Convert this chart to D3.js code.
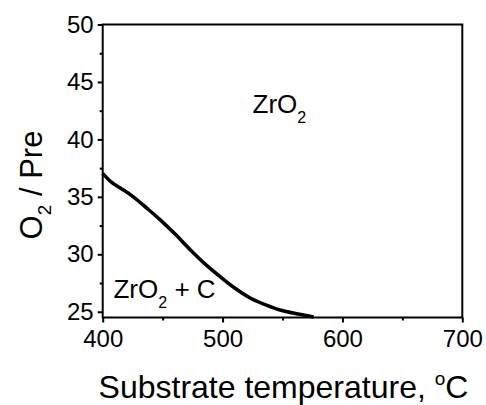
<!DOCTYPE html>
<html>
<head>
<meta charset="utf-8">
<script src="https://cdn.jsdelivr.net/npm/d3@7/dist/d3.min.js"></script>
<style>
  body { margin: 0; background: #fff; }
  svg { display: block; }
  text { font-family: "Liberation Sans", Arial, sans-serif; fill: #000; }
</style>
</head>
<body>
<svg id="chart" width="486" height="405"></svg>
<script>
// ---- data ----
const temperature = [400, 407, 415, 425, 437, 448, 461, 473, 486, 498, 511, 523, 536, 548, 563, 576];
const o2Pre       = [37.05, 36.3, 35.75, 35.05, 34.0, 33.0, 31.7, 30.4, 29.1, 28.05, 27.0, 26.2, 25.6, 25.15, 24.8, 24.55];
const xTicks = [400, 500, 600, 700];
const xMinorTicks = [450, 550, 650];
const yTicks = [25, 30, 35, 40, 45, 50];
const yMinorTicks = [27.5, 32.5, 37.5, 42.5, 47.5];
const regionLabels = [
  { main: "ZrO", sub: "2", rest: "", x: 525, y: 42.3 },
  { main: "ZrO", sub: "2", rest: " + C", x: 409, y: 26.2 }
];

// ---- layout ----
const svg = d3.select("#chart");
const L = 102.7, R = 462.3, T = 24.5, B = 317.5;
const x = d3.scaleLinear().domain([400, 700]).range([L, R]);
const y = d3.scaleLinear().domain([24.5, 50]).range([B, T]);

// frame
svg.append("rect").attr("x", L).attr("y", T).attr("width", R - L).attr("height", B - T)
  .attr("fill", "none").attr("stroke", "#000").attr("stroke-width", 2);

// x axis
const gx = svg.append("g").attr("transform", `translate(0,${B})`)
  .call(d3.axisBottom(x).tickValues(xTicks).tickSize(5).tickSizeOuter(0).tickPadding(7).tickFormat(d3.format("d")));
gx.select(".domain").remove();
gx.selectAll(".tick line").attr("stroke-width", 2);
gx.selectAll(".tick text").attr("font-size", 24).attr("font-family", "Liberation Sans, Arial, sans-serif");
const gxm = svg.append("g").attr("transform", `translate(0,${B})`)
  .call(d3.axisBottom(x).tickValues(xMinorTicks).tickSize(3).tickFormat(""));
gxm.select(".domain").remove();
gxm.selectAll(".tick line").attr("stroke-width", 2);

// y axis
const gy = svg.append("g").attr("transform", `translate(${L},0)`)
  .call(d3.axisLeft(y).tickValues(yTicks).tickSize(5).tickSizeOuter(0).tickPadding(4).tickFormat(d3.format("d")));
gy.select(".domain").remove();
gy.selectAll(".tick line").attr("stroke-width", 2);
gy.selectAll(".tick text").attr("font-size", 24).attr("font-family", "Liberation Sans, Arial, sans-serif");
const gym = svg.append("g").attr("transform", `translate(${L},0)`)
  .call(d3.axisLeft(y).tickValues(yMinorTicks).tickSize(3).tickFormat(""));
gym.select(".domain").remove();
gym.selectAll(".tick line").attr("stroke-width", 2);

// boundary curve
const pts = temperature.map((t, i) => [t, o2Pre[i]]);
svg.append("path")
  .datum(pts)
  .attr("fill", "none").attr("stroke", "#000").attr("stroke-width", 3.5)
  .attr("stroke-linejoin", "round")
  .attr("d", d3.line().x(d => x(d[0])).y(d => y(d[1])).curve(d3.curveMonotoneX));

// region labels
regionLabels.forEach(r => {
  const t = svg.append("text").attr("x", x(r.x)).attr("y", y(r.y))
    .attr("font-size", 26);
  t.append("tspan").text(r.main);
  t.append("tspan").attr("font-size", 16).attr("dy", 10).text(r.sub);
  if (r.rest) t.append("tspan").attr("dy", -10).text(r.rest);
});

// axis titles
const xt = svg.append("text").attr("x", (L + R) / 2 + 1).attr("y", 398)
  .attr("text-anchor", "middle").attr("font-size", 32);
xt.append("tspan").text("Substrate temperature, ");
xt.append("tspan").attr("font-size", 19).attr("dy", -13).text("o");
xt.append("tspan").attr("dy", 13).text("C");

const yt = svg.append("text").attr("transform", `translate(42,${(T + B) / 2 + 14}) rotate(-90)`)
  .attr("text-anchor", "middle").attr("font-size", 31);
yt.append("tspan").text("O");
yt.append("tspan").attr("font-size", 19).attr("dy", 9).text("2");
yt.append("tspan").attr("dy", -9).text(" / Pre");
</script>
</body>
</html>
